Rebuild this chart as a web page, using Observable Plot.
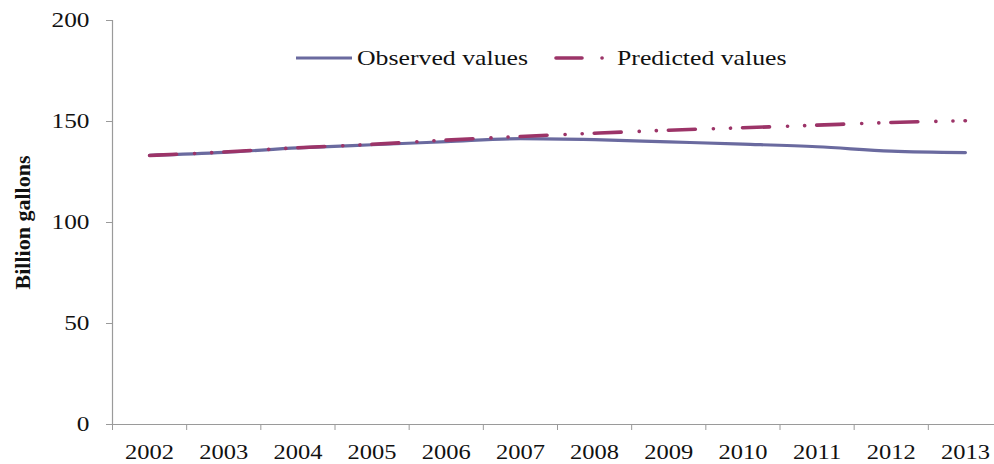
<!DOCTYPE html>
<html>
<head>
<meta charset="utf-8">
<script src="https://cdn.jsdelivr.net/npm/d3@7"></script>
<script src="https://cdn.jsdelivr.net/npm/@observablehq/plot@0.6"></script>
<style>
  html, body { margin: 0; padding: 0; background: #fff; }
  #chart { width: 994px; height: 464px; }
</style>
</head>
<body>
<div id="chart"></div>
<script>
// ---- data ----
const years = [2002, 2003, 2004, 2005, 2006, 2007, 2008, 2009, 2010, 2011, 2012, 2013];
const observed = [133.2, 134.7, 136.9, 138.5, 140.0, 141.5, 141.0, 139.9, 138.8, 137.5, 135.3, 134.6];
const predicted = [133.2, 134.9, 137.0, 138.7, 140.8, 142.6, 144.2, 145.7, 146.9, 148.2, 149.5, 150.4];
const yTicks = [0, 50, 100, 150, 200];
const seriesNames = ["Observed values", "Predicted values"];
const yLabel = "Billion gallons";

const obsColor = "#6a6a9f";
const predColor = "#9c3468";
const axisColor = "#9a9a9a";
const predDash = "27,18,0.1,17,0.1,12";
const serif = "'Liberation Serif', 'Times New Roman', serif";

const data = years.map((year, i) => ({year, observed: observed[i], predicted: predicted[i]}));
const edges = years.map(y => y - 0.5).concat([years[years.length - 1] + 0.5]);

const chart = Plot.plot({
  width: 994,
  height: 464,
  marginLeft: 112,
  marginRight: -8,
  marginTop: 20,
  marginBottom: 40,
  style: {fontFamily: serif, fontSize: "20px", color: "#111", background: "#fff"},
  x: {domain: [years[0] - 0.5, years[years.length - 1] + 0.5]},
  y: {domain: [0, 200]},
  marks: [
    Plot.axisY({ticks: yTicks, tickSize: 6, tickPadding: 17, label: null, stroke: axisColor, fill: "#111", fontSize: 21}),
    Plot.axisX({ticks: years, tickSize: 0, tickPadding: 20, tickFormat: d => String(d), label: null, fill: "#111", fontSize: 20}),
    Plot.axisX({ticks: edges, tickSize: 6, tickFormat: () => "", label: null, stroke: axisColor}),
    Plot.ruleX([years[0] - 0.5], {stroke: axisColor, strokeWidth: 1.2}),
    Plot.ruleY([0], {stroke: axisColor, strokeWidth: 1.2}),
    Plot.text([yLabel], {frameAnchor: "left", textAnchor: "middle", lineAnchor: "middle", rotate: -90, dx: -90, fontWeight: "bold", fontSize: 22, fill: "#111"}),
    Plot.line(data, {x: "year", y: "observed", stroke: obsColor, strokeWidth: 3.2, curve: "monotone-x"}),
    Plot.line(data, {x: "year", y: "predicted", stroke: predColor, strokeWidth: 3.6, strokeDasharray: predDash, strokeLinecap: "round", curve: "monotone-x"})
  ]
});
document.getElementById("chart").appendChild(chart);

// stretch text horizontally (the reference typeface is wide), keeping its anchor point
function stretchNodes(nodes, factor) {
  nodes.forEach(n => {
    const anchor = getComputedStyle(n).textAnchor;
    const b0 = n.getBBox();
    const ref0 = anchor === "end" ? b0.x + b0.width : anchor === "middle" ? b0.x + b0.width / 2 : b0.x;
    const w = n.getComputedTextLength();
    n.setAttribute("textLength", (w * factor).toFixed(2));
    n.setAttribute("lengthAdjust", "spacingAndGlyphs");
    const b1 = n.getBBox();
    const ref1 = anchor === "end" ? b1.x + b1.width : anchor === "middle" ? b1.x + b1.width / 2 : b1.x;
    const x0 = parseFloat(n.getAttribute("x") || "0");
    n.setAttribute("x", (x0 + ref0 - ref1).toFixed(2));
  });
}
function stretchGroup(selector, refText, targetWidth) {
  const nodes = Array.from(chart.querySelectorAll(selector));
  let factor = 1;
  nodes.forEach(n => { if (n.textContent === refText) factor = targetWidth / n.getComputedTextLength(); });
  stretchNodes(nodes, factor);
}
stretchGroup('g[aria-label="x-axis tick label"] text', "2002", 49);
stretchGroup('g[aria-label="y-axis tick label"] text', "200", 38);

// legend
const svg = d3.select(chart);
const lg = svg.append("g").attr("font-family", serif).attr("font-size", 21).attr("fill", "#111").attr("text-anchor", "start");
lg.append("line").attr("x1", 296).attr("x2", 352).attr("y1", 58).attr("y2", 58)
  .attr("stroke", obsColor).attr("stroke-width", 3.2);
const t1 = lg.append("text").attr("x", 357).attr("y", 65).attr("text-anchor", "start").text(seriesNames[0]);
lg.append("line").attr("x1", 556).attr("x2", 604).attr("y1", 58).attr("y2", 58)
  .attr("stroke", predColor).attr("stroke-width", 3.6).attr("stroke-linecap", "round")
  .attr("stroke-dasharray", "26,20,0.1,100");
const t2 = lg.append("text").attr("x", 617).attr("y", 65).attr("text-anchor", "start").text(seriesNames[1]);
const lf = 171 / t1.node().getComputedTextLength();
stretchNodes([t1.node(), t2.node()], lf);
</script>
</body>
</html>
